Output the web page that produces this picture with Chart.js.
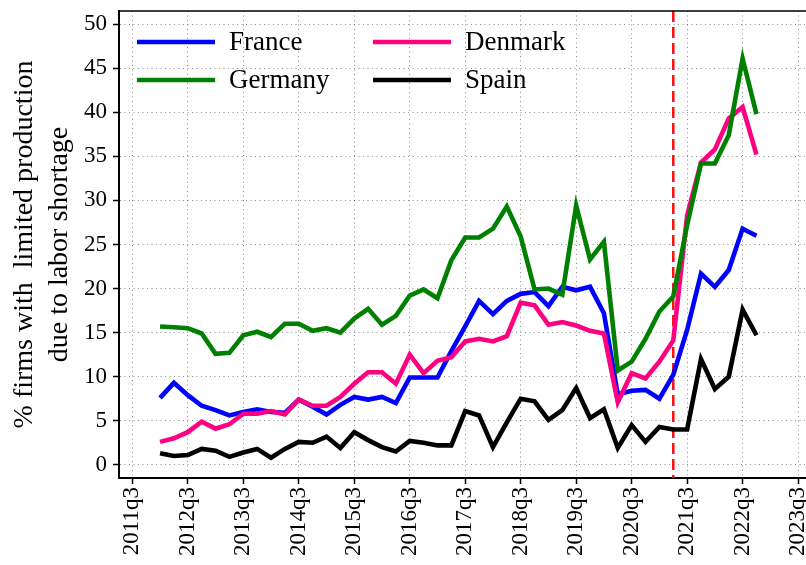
<!DOCTYPE html>
<html>
<head>
<meta charset="utf-8">
<script src="https://cdn.jsdelivr.net/npm/chart.js@4/dist/chart.umd.min.js"></script>
<style>
body { margin: 0; background: #fff; }
canvas { display: block; }
</style>
</head>
<body>
<canvas id="chart" width="806" height="565"></canvas>
<script>
// quarters of the survey, 2012q1 .. 2022q4
const quarters = [
	"2012q1", "2012q2", "2012q3", "2012q4", "2013q1", "2013q2", "2013q3", "2013q4",
	"2014q1", "2014q2", "2014q3", "2014q4", "2015q1", "2015q2", "2015q3", "2015q4",
	"2016q1", "2016q2", "2016q3", "2016q4", "2017q1", "2017q2", "2017q3", "2017q4",
	"2018q1", "2018q2", "2018q3", "2018q4", "2019q1", "2019q2", "2019q3", "2019q4",
	"2020q1", "2020q2", "2020q3", "2020q4", "2021q1", "2021q2", "2021q3", "2021q4",
	"2022q1", "2022q2", "2022q3", "2022q4"
];

const france = [7.6, 9.3, 7.9, 6.7, 6.2, 5.6, 6.0, 6.3, 6.0, 5.9, 7.4, 6.6, 5.7, 6.8, 7.7, 7.4,
	7.7, 7.0, 9.9, 9.9, 9.9, 12.9, 15.7, 18.6, 17.1, 18.6, 19.4, 19.6, 18.0, 20.2, 19.8, 20.2,
	17.2, 8.0, 8.4, 8.5, 7.5, 10.2, 15.3, 21.7, 20.2, 22.1, 26.8, 26.0];
const denmark = [2.6, 3.0, 3.7, 4.9, 4.1, 4.6, 5.8, 5.8, 6.1, 5.7, 7.4, 6.7, 6.7, 7.7, 9.2, 10.5,
	10.5, 9.2, 12.5, 10.4, 11.8, 12.2, 14.0, 14.3, 14.0, 14.6, 18.4, 18.1, 15.9, 16.2, 15.8, 15.2,
	14.9, 7.1, 10.4, 9.8, 11.7, 14.1, 28.3, 34.3, 35.8, 39.3, 40.6, 35.2];
const germany = [15.7, 15.6, 15.5, 14.9, 12.6, 12.7, 14.7, 15.1, 14.5, 16.0, 16.0, 15.2, 15.5, 15.0, 16.6, 17.7,
	15.9, 16.9, 19.2, 19.9, 18.9, 23.2, 25.8, 25.8, 26.8, 29.3, 25.9, 19.9, 20.0, 19.3, 29.4, 23.3,
	25.3, 10.7, 11.7, 14.3, 17.4, 19.1, 27.2, 34.2, 34.2, 37.4, 46.1, 39.8];
const spain = [1.3, 1.0, 1.1, 1.8, 1.6, 0.9, 1.4, 1.8, 0.8, 1.8, 2.6, 2.5, 3.2, 1.9, 3.7, 2.8,
	2.0, 1.5, 2.7, 2.5, 2.2, 2.2, 6.1, 5.6, 2.0, 4.8, 7.5, 7.2, 5.1, 6.2, 8.7, 5.3,
	6.3, 1.9, 4.5, 2.6, 4.3, 4.0, 4.0, 12.0, 8.6, 10.0, 17.6, 14.7];

const tickLabels = ["2011q3", "2012q3", "2013q3", "2014q3", "2015q3", "2016q3", "2017q3",
	"2018q3", "2019q3", "2020q3", "2021q3", "2022q3", "2023q3"];
const markerQuarter = "2021q2";

const yTitle = ["% firms with  limited production", "due to labor shortage"];

// quarters counted from 2011q3
function quarterIndex(q) {
	return (parseInt(q.slice(0, 4)) - 2011) * 4 + parseInt(q.slice(5)) - 3;
}

function points(values) {
	return values.map((v, i) => ({ x: quarterIndex(quarters[i]), y: v }));
}

const serif = "'Liberation Serif', 'Times New Roman', serif";

const extras = {
	id: "extras",
	beforeDatasetsDraw(chart) {
		const ctx = chart.ctx;
		const area = chart.chartArea;
		const x = chart.scales.x.getPixelForValue(quarterIndex(markerQuarter));
		ctx.save();
		ctx.strokeStyle = "#ff1010";
		ctx.lineWidth = 2.5;
		ctx.setLineDash([11, 5]);
		ctx.beginPath();
		ctx.moveTo(x, area.top);
		ctx.lineTo(x, area.bottom);
		ctx.stroke();
		ctx.restore();
	},
	afterDraw(chart) {
		const ctx = chart.ctx;
		const area = chart.chartArea;
		ctx.save();
		// top frame line
		ctx.strokeStyle = "#000";
		ctx.lineWidth = 1.5;
		ctx.beginPath();
		ctx.moveTo(area.left, area.top);
		ctx.lineTo(area.right, area.top);
		ctx.stroke();

		// legend, two columns
		const cols = [137, 373];
		const rows = [42, 80];
		ctx.font = "27px " + serif;
		ctx.textBaseline = "middle";
		ctx.textAlign = "left";
		chart.data.datasets.forEach((ds, k) => {
			const lx = cols[k % 2];
			const ly = rows[Math.floor(k / 2)];
			ctx.strokeStyle = ds.borderColor;
			ctx.lineWidth = 4.5;
			ctx.beginPath();
			ctx.moveTo(lx, ly);
			ctx.lineTo(lx + 78, ly);
			ctx.stroke();
			ctx.fillStyle = "#000";
			ctx.fillText(ds.label, lx + 92, ly + 1);
		});
		ctx.restore();
	}
};

new Chart(document.getElementById("chart"), {
	type: "line",
	data: {
		datasets: [
			{ label: "France", data: points(france), borderColor: "rgb(0,0,255)", order: 4 },
			{ label: "Denmark", data: points(denmark), borderColor: "rgb(255,0,128)", order: 3 },
			{ label: "Germany", data: points(germany), borderColor: "rgb(0,128,0)", order: 2 },
			{ label: "Spain", data: points(spain), borderColor: "rgb(0,0,0)", order: 1 }
		]
	},
	options: {
		responsive: false,
		animation: false,
		events: [],
		layout: { padding: { top: 11, left: 0, right: 0, bottom: 0 } },
		elements: {
			line: { borderWidth: 4.6, tension: 0, fill: false },
			point: { radius: 0 }
		},
		plugins: {
			legend: { display: false },
			tooltip: { enabled: false }
		},
		scales: {
			x: {
				type: "linear",
				min: -0.96,
				max: 48.57,
				grid: {
					color: "rgba(0,0,0,0.45)",
					lineWidth: 1,
					tickLength: 6,
					tickColor: "#000",
					tickWidth: 1.5
				},
				border: { display: true, color: "#000", width: 2, dash: [1, 3.5] },
				ticks: {
					stepSize: 4,
					includeBounds: false,
					autoSkip: false,
					minRotation: 90,
					maxRotation: 90,
					padding: 3,
					color: "#000",
					font: { family: serif, size: 23 },
					callback: v => {
						const t = tickLabels.find(l => quarterIndex(l) === v);
						return t === undefined ? "" : t;
					}
				},
				afterFit: s => { s.height = 87; s.paddingLeft = 0; s.paddingRight = 0; }
			},
			y: {
				min: -1.5,
				max: 51.5,
				grid: {
					color: "rgba(0,0,0,0.45)",
					lineWidth: 1,
					tickLength: 6,
					tickColor: "#000",
					tickWidth: 1.5
				},
				border: { display: true, color: "#000", width: 2, dash: [1, 3.5] },
				ticks: {
					stepSize: 5,
					includeBounds: false,
					padding: 6,
					color: "#000",
					font: { family: serif, size: 23 }
				},
				title: {
					display: true,
					text: yTitle,
					color: "#000",
					font: { family: serif, size: 28, lineHeight: 1.25 },
					padding: { top: 7, bottom: 0 }
				},
				afterFit: s => { s.width = 119; s.paddingTop = 0; s.paddingBottom = 0; }
			}
		}
	},
	plugins: [extras]
});
</script>
</body>
</html>
